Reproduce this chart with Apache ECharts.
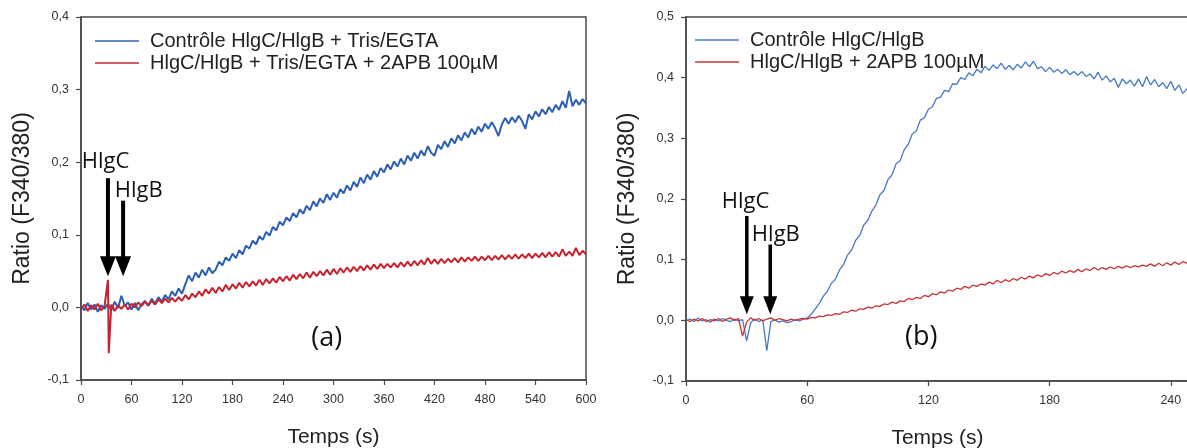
<!DOCTYPE html>
<html><head><meta charset="utf-8">
<script src="https://cdn.jsdelivr.net/npm/echarts@6/dist/echarts.min.js"></script>
<style>html,body{margin:0;padding:0;background:#fff}#c{width:1187px;height:448px}</style>
</head><body><div id="c"></div>
<script>
// ---- Panel (a): sampled every 4 s, 0..600 s
const leftStep = 4;
const leftNames = ['Contrôle HlgC/HlgB + Tris/EGTA', 'HlgC/HlgB + Tris/EGTA + 2APB 100µM'];
const leftBlue = [
 0.002,-0.004,0.006,-0.003,0.004,-0.006,0.003,-0.002,0.005,-0.004,
 0.008,-0.001,0.016,0.002,0.007,-0.003,0.006,-0.004,0.004,0.009,
 0.002,0.012,0.005,0.014,0.008,0.017,0.011,0.022,0.016,0.026,
 0.019,0.032,0.044,0.036,0.048,0.041,0.052,0.044,0.055,0.047,
 0.052,0.063,0.058,0.069,0.064,0.074,0.068,0.079,0.073,0.085,
 0.081,0.092,0.087,0.098,0.093,0.104,0.099,0.111,0.106,0.118,
 0.113,0.124,0.119,0.13,0.124,0.135,0.129,0.14,0.134,0.146,
 0.139,0.15,0.144,0.156,0.148,0.158,0.151,0.163,0.157,0.168,
 0.161,0.173,0.166,0.179,0.171,0.183,0.176,0.188,0.18,0.192,
 0.186,0.197,0.19,0.201,0.194,0.205,0.197,0.209,0.202,0.213,
 0.205,0.216,0.209,0.222,0.213,0.209,0.224,0.218,0.229,0.221,
 0.233,0.226,0.237,0.23,0.241,0.234,0.246,0.238,0.249,0.242,
 0.253,0.246,0.255,0.247,0.236,0.252,0.261,0.253,0.262,0.255,
 0.264,0.257,0.246,0.266,0.259,0.27,0.263,0.273,0.266,0.276,
 0.269,0.279,0.272,0.284,0.275,0.298,0.277,0.286,0.279,0.287,
 0.281];
const leftRed = [
 -0.002,0.004,-0.005,0.003,-0.003,0.005,-0.004,0.002,0.038,0.004,
 -0.005,0.003,-0.002,0.004,-0.003,0.005,0.0,0.007,0.002,0.008,
 0.003,0.009,0.004,0.011,0.006,0.012,0.007,0.013,0.008,0.014,
 0.009,0.017,0.011,0.019,0.014,0.022,0.016,0.025,0.019,0.027,
 0.02,0.028,0.022,0.031,0.024,0.032,0.026,0.034,0.027,0.035,
 0.029,0.036,0.03,0.038,0.031,0.039,0.033,0.04,0.034,0.042,
 0.036,0.043,0.037,0.045,0.039,0.046,0.04,0.048,0.041,0.049,
 0.043,0.05,0.044,0.052,0.045,0.053,0.046,0.054,0.048,0.055,
 0.049,0.056,0.05,0.057,0.051,0.058,0.052,0.059,0.053,0.06,
 0.054,0.06,0.055,0.061,0.055,0.062,0.056,0.063,0.057,0.064,
 0.058,0.065,0.059,0.068,0.06,0.066,0.06,0.067,0.061,0.067,
 0.062,0.068,0.062,0.069,0.063,0.069,0.064,0.07,0.064,0.07,
 0.065,0.071,0.065,0.071,0.066,0.072,0.066,0.072,0.067,0.073,
 0.067,0.073,0.068,0.074,0.068,0.074,0.069,0.075,0.069,0.076,
 0.07,0.076,0.07,0.08,0.071,0.077,0.071,0.082,0.072,0.078,
 0.073];
const leftRedSpike = [[33, -0.063]];

// ---- Panel (b): sampled every 2 s, 0..248 s
const rightStep = 2;
const rightNames = ['Contrôle HlgC/HlgB', 'HlgC/HlgB + 2APB 100µM'];
const rightBlue = [
 0.0,0.002,-0.002,0.004,-0.001,0.001,-0.003,0.002,-0.001,0.003,
 0.0,-0.002,0.002,-0.001,0.001,-0.034,-0.004,0.002,-0.002,0.001,
 -0.05,-0.002,0.001,-0.003,-0.001,-0.004,-0.002,0.001,-0.001,0.002,
 0.004,0.01,0.019,0.028,0.04,0.048,0.061,0.068,0.083,0.092,
 0.108,0.116,0.132,0.14,0.157,0.165,0.18,0.19,0.207,0.214,
 0.232,0.24,0.258,0.263,0.281,0.29,0.307,0.312,0.33,0.334,
 0.348,0.352,0.366,0.368,0.379,0.377,0.39,0.389,0.4,0.397,
 0.408,0.403,0.414,0.408,0.419,0.412,0.421,0.415,0.424,0.414,
 0.42,0.413,0.422,0.416,0.426,0.418,0.427,0.415,0.418,0.41,
 0.417,0.409,0.414,0.407,0.413,0.405,0.41,0.404,0.41,0.402,
 0.406,0.398,0.409,0.396,0.403,0.393,0.399,0.384,0.398,0.39,
 0.396,0.386,0.398,0.385,0.402,0.388,0.397,0.385,0.392,0.382,
 0.394,0.379,0.388,0.374,0.382];
const rightRed = [
 0.001,-0.002,0.002,-0.001,0.003,-0.002,0.001,-0.001,0.003,-0.002,
 0.002,0.004,0.0,0.003,-0.026,-0.003,0.004,0.0,0.003,-0.001,
 0.002,0.004,0.0,0.003,0.001,-0.001,0.002,0.0,0.002,0.003,
 0.002,0.005,0.004,0.007,0.006,0.009,0.008,0.011,0.01,0.014,
 0.013,0.017,0.015,0.019,0.018,0.022,0.02,0.024,0.023,0.027,
 0.026,0.03,0.028,0.032,0.031,0.036,0.034,0.038,0.036,0.041,
 0.039,0.044,0.042,0.047,0.045,0.05,0.048,0.053,0.051,0.056,
 0.053,0.058,0.056,0.06,0.058,0.063,0.06,0.066,0.062,0.067,
 0.064,0.069,0.066,0.071,0.068,0.073,0.07,0.075,0.072,0.077,
 0.074,0.079,0.076,0.081,0.078,0.082,0.079,0.084,0.08,0.085,
 0.082,0.087,0.083,0.087,0.084,0.088,0.085,0.089,0.086,0.09,
 0.087,0.09,0.088,0.091,0.089,0.093,0.089,0.094,0.09,0.095,
 0.091,0.096,0.092,0.097,0.094];

// annotation anchors (data coordinates)
const arrows = [
 {g:0, t:32, top:0.178, tip:0.043, w:4, hw:16, hh:20},
 {g:0, t:50, top:0.147, tip:0.043, w:4, hw:16, hh:20},
 {g:1, t:30.1, top:0.172, tip:0.010, w:3.5, hw:14, hh:18},
 {g:1, t:41.7, top:0.125, tip:0.010, w:3.5, hw:14, hh:18}
];
const notes = [
 {g:0, t:1, v:0.200, text:'HlgC', size:22, align:'left'},
 {g:0, t:40, v:0.161, text:'HlgB', size:22, align:'left'},
 {g:1, t:17.7, v:0.196, text:'HlgC', size:22, align:'left'},
 {g:1, t:32.6, v:0.141, text:'HlgB', size:22, align:'left'},
 {g:0, t:292, v:-0.043, text:'(a)', size:27, align:'center'},
 {g:1, t:116.5, v:-0.028, text:'(b)', size:27, align:'center'}
];

function toPairs(vals, step, extra) {
  const d = vals.map((v, i) => [i * step, v]);
  if (extra) { extra.forEach(p => d.push(p)); d.sort((a, b) => a[0] - b[0]); }
  return d;
}

const AX = '#4a4a4a';
const FONT = 'Liberation Sans, Arial, sans-serif';
const fmtY = v => (Math.round(v * 10) / 10).toFixed(1).replace('.', ',');

function xAxis(g, max, showMax) {
  return {
    gridIndex: g, type: 'value', min: 0, max: max, interval: 60,
    name: 'Temps (s)', nameLocation: 'middle', nameGap: 47,
    nameTextStyle: {fontFamily: FONT, fontSize: 21, color: '#222'},
    axisLine: {onZero: false, lineStyle: {color: AX, width: 1.5}},
    axisTick: {length: 5, lineStyle: {color: AX, width: 1.2}},
    axisLabel: {fontFamily: FONT, fontSize: 12.5, color: '#333', margin: 13, showMaxLabel: showMax},
    splitLine: {show: false}
  };
}
function yAxis(g, min, max) {
  return {
    gridIndex: g, type: 'value', min: min, max: max, interval: 0.1,
    name: 'Ratio (F340/380)', nameLocation: 'middle', nameGap: 47, nameRotate: 90,
    nameTextStyle: {fontFamily: FONT, fontSize: 23, color: '#222'},
    axisLine: {onZero: false, lineStyle: {color: AX, width: 1.5}},
    axisTick: {length: 5, lineStyle: {color: AX, width: 1.2}},
    axisLabel: {fontFamily: FONT, fontSize: 12.5, color: '#333', margin: 12, formatter: fmtY},
    splitLine: {show: false}
  };
}
function legend(names, left, top) {
  return {
    data: names, left: left, top: top, orient: 'vertical', icon: 'rect', padding: 0,
    itemWidth: 44, itemHeight: 1.5, itemGap: 2, selectedMode: false,
    textStyle: {fontFamily: FONT, fontSize: 20, color: '#222', padding: [0, 0, 0, 6]}
  };
}
function line(name, data, xi, color, width, z) {
  return {
    name: name, type: 'line', xAxisIndex: xi, yAxisIndex: xi, data: data,
    symbol: 'none', showSymbol: false, z: z, clip: true,
    lineStyle: {color: color, width: width}, itemStyle: {color: color}
  };
}

const chart = echarts.init(document.getElementById('c'), null, {renderer: 'canvas'});
chart.setOption({
  animation: false,
  backgroundColor: '#fff',
  grid: [
    {left: 81, right: 601, top: 17, bottom: 68, show: true, borderColor: AX, borderWidth: 1.5, outerBoundsMode: 'none', containLabel: false},
    {left: 686, right: -2, top: 17, bottom: 67, show: true, borderColor: AX, borderWidth: 1.5, outerBoundsMode: 'none', containLabel: false}
  ],
  xAxis: [xAxis(0, 600, true), xAxis(1, 249, false)],
  yAxis: [yAxis(0, -0.1, 0.4), yAxis(1, -0.1, 0.5)],
  legend: [legend(leftNames, 95, 31), legend(rightNames, 695, 30)],
  series: [
    line(leftNames[0], toPairs(leftBlue, leftStep), 0, '#2d5fb4', 2, 2),
    line(leftNames[1], toPairs(leftRed, leftStep, leftRedSpike), 0, '#c62330', 2, 3),
    line(rightNames[0], toPairs(rightBlue, rightStep), 1, '#4679c6', 1.3, 2),
    line(rightNames[1], toPairs(rightRed, rightStep), 1, '#c73338', 1.3, 3)
  ]
});

const px = (g, t, v) => chart.convertToPixel({gridIndex: g}, [t, v]);
const elements = [];
arrows.forEach(a => {
  const p0 = px(a.g, a.t, a.top), p1 = px(a.g, a.t, a.tip);
  const x = p0[0];
  elements.push({type: 'rect', z: 50, shape: {x: x - a.w / 2, y: p0[1], width: a.w, height: p1[1] - a.hh - p0[1] + 2}, style: {fill: '#000'}});
  elements.push({type: 'polygon', z: 50, shape: {points: [[x - a.hw / 2, p1[1] - a.hh], [x + a.hw / 2, p1[1] - a.hh], [x, p1[1]]]}, style: {fill: '#000'}});
});
notes.forEach(n => {
  const p = px(n.g, n.t, n.v);
  elements.push({type: 'text', z: 50, x: p[0], y: p[1], style: {text: n.text, fontFamily: 'Open Sans, DejaVu Sans, sans-serif', fontSize: n.size, fill: '#111', align: n.align, verticalAlign: 'middle'}});
});
chart.setOption({graphic: elements});
</script></body></html>
